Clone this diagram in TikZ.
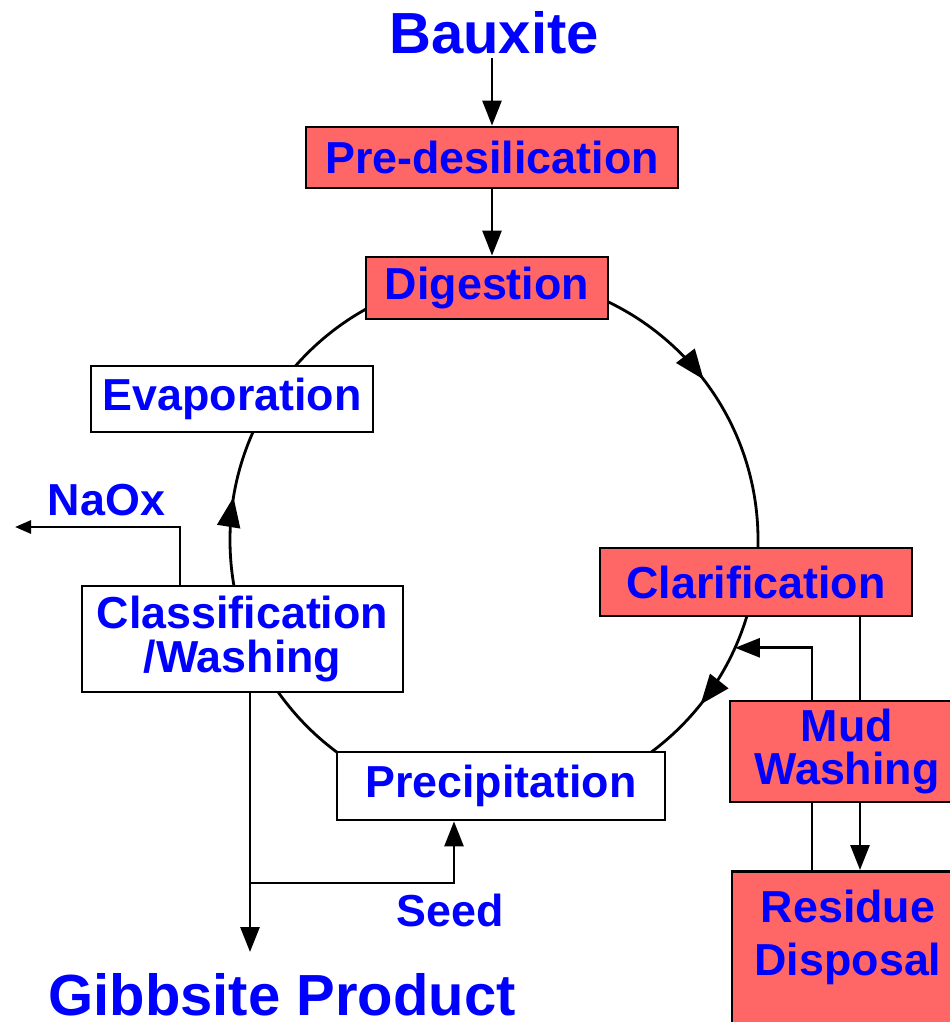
\documentclass[tikz,border=0pt]{standalone}
\usepackage{fontspec}
\setmainfont{Liberation Sans}
\usetikzlibrary{arrows.meta, positioning, calc, decorations.markings}
\definecolor{my_red}{RGB}{255, 102, 102}
\definecolor{my_blue}{RGB}{0, 0, 255}
\tikzset {
  redbox/.style = {draw, line width=1.6pt, fill=my_red, rectangle, text=my_blue, align=center, font=\fontsize{25.5}{25}\selectfont\bfseries},
  whitebox/.style = {redbox, fill=white},
  title/.style = {text=my_blue, inner sep=2pt, font=\fontsize{33}{33}\selectfont\bfseries},
  tag/.style = {text=my_blue, inner sep=2pt, font=\fontsize{25.5}{25}\selectfont\bfseries},
  plain/.style = {line width=1.6pt},
  line/.style = {plain, -{Triangle[length=0.5cm, width=0.38cm]}},
  smallline/.style = {plain, -{Triangle[length=0.32cm, width=0.26cm]}},
  % arrow tips on the circuit (circle runs counter-clockwise, flow is clockwise)
  loopline/.style = {plain,
    decoration={markings,
      mark=at position 0.104 with {\arrowreversed{Triangle[length=0.6cm, width=0.46cm]}},
      mark=at position 0.474 with {\arrowreversed{Triangle[length=0.6cm, width=0.46cm]}},
      mark=at position 0.893 with {\arrowreversed{Triangle[length=0.6cm, width=0.46cm]}}},
    postaction={decorate}}
}

\begin{document}
\begin{tikzpicture}
    \useasboundingbox (0,0) rectangle (19,-20.44);

    % the liquor circuit
    \coordinate (hub) at (9.88,-10.8);
    \draw[loopline] (hub) circle (5.28);

    \node[title] (baux) at (9.88,-0.66) {Bauxite};
    \node[redbox, minimum width=7.44cm, minimum height=1.22cm] (pre) at (9.84,-3.15) {Pre-desilication};
    \node[redbox, minimum width=4.84cm, minimum height=1.24cm] (dig) at (9.74,-5.76) {Digestion};
    \node[whitebox, minimum width=5.64cm, minimum height=1.32cm] (evap) at (4.64,-7.98) {Evaporation};
    \node[redbox, minimum width=6.24cm, minimum height=1.36cm] (clar) at (15.12,-11.64) {Clarification};
    \node[whitebox, minimum width=6.42cm, minimum height=2.12cm] (clas) at (4.85,-12.78) {Classification\\/Washing};
    \node[redbox, minimum width=4.68cm, minimum height=2.02cm] (mud) at (16.94,-15.03) {Mud\\Washing};
    \node[whitebox, minimum width=6.56cm, minimum height=1.36cm] (prec) at (10.02,-15.72) {Precipitation};
    \node[redbox, minimum width=4.64cm, minimum height=3.2cm, anchor=north,
          label={[tag, align=center, yshift=0.28cm]center:Residue\\[5pt]Disposal}] (resid) at (16.96,-17.4) {};

    \node[tag] (naoxtxt) at (2.13,-10.0) {NaOx};
    \node[tag] (seedtxt) at (9.0,-18.2) {Seed};
    \node[title] (prod) at (5.64,-19.9) {Gibbsite Product};

    \coordinate (ret) at ($(hub)+(-24.1:5.28)$);
    \coordinate (uf) at (17.2,0);
    \coordinate (ww) at (16.24,0);
    \coordinate (nx) at (3.6,-10.54);
    \coordinate (naox) at (0.3,-10.54);
    \coordinate (gx) at (5.0,-19.04);
    \coordinate (sx) at (9.08,-17.66);

    \draw[line] (baux.south -| pre.north) -- (pre.north);
    \draw[line] (pre.south) -- (pre.south |- dig.north);
    \draw[plain] (clar.south -| uf) -- (mud.north -| uf);
    \draw[line] (mud.south -| uf) -- (resid.north -| uf);
    \draw[plain] (resid.north -| ww) -- (mud.south -| ww);
    \draw[line] (mud.north -| ww) |- (ret);
    \draw[smallline] (clas.north -| nx) -- (nx) -- (naox);
    \draw[line] (clas.south -| gx) -- (gx);
    \draw[line] (gx |- sx) -- (sx) -- (prec.south -| sx);

\end{tikzpicture}
\end{document}
